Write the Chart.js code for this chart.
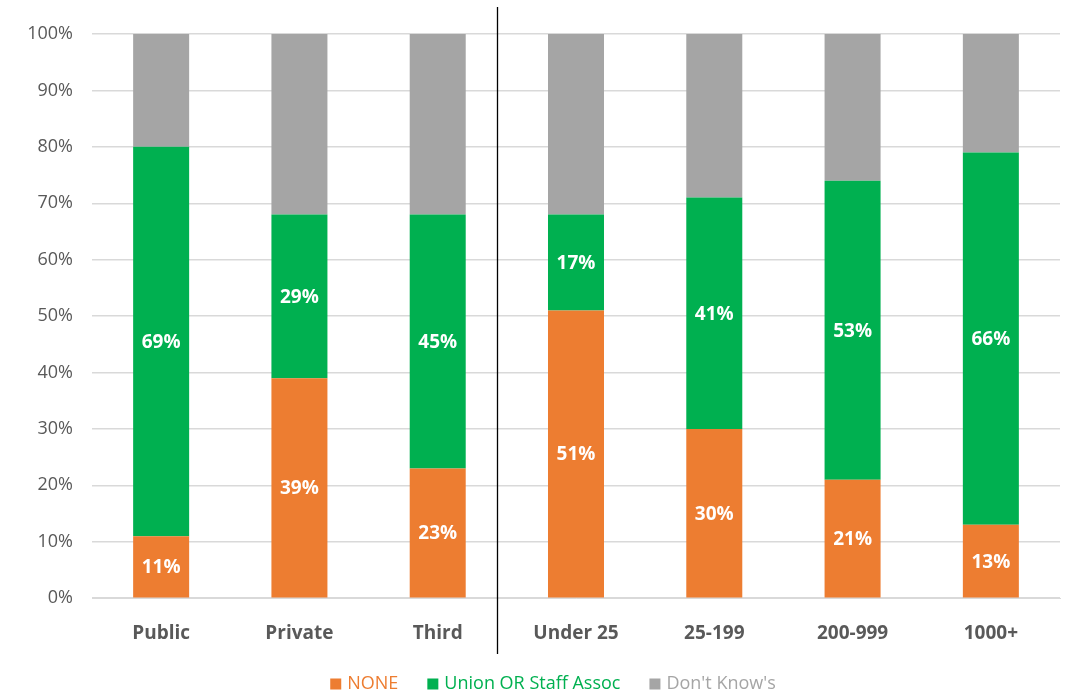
<!DOCTYPE html>
<html>
<head>
<meta charset="utf-8">
<script src="https://cdn.jsdelivr.net/npm/chart.js@4/dist/chart.umd.min.js"></script>
<style>
  html, body { margin: 0; padding: 0; background: #fff; }
  #wrap { width: 1066px; height: 695px; }
</style>
</head>
<body>
<div id="wrap"><canvas id="chart"></canvas></div>
<script>
const categories = ['Public', 'Private', 'Third', 'Under 25', '25-199', '200-999', '1000+'];
const noneVals = [11, 39, 23, 51, 30, 21, 13];
const unionVals = [69, 29, 45, 17, 41, 53, 66];
const dontKnowVals = [20, 32, 32, 32, 29, 26, 21];
const yTicks = [0, 10, 20, 30, 40, 50, 60, 70, 80, 90, 100];

const ORANGE = '#ED7D31', GREEN = '#00B050', GREY = '#A5A5A5';
const FONT = "'Open Sans', 'Noto Sans', sans-serif";

// white % labels in the middle of the orange and green segments
const segLabels = {
  id: 'segLabels',
  afterDatasetsDraw(chart) {
    const ctx = chart.ctx;
    ctx.save();
    ctx.fillStyle = '#fff';
    ctx.font = 'bold 19px ' + FONT;
    ctx.textAlign = 'center';
    ctx.textBaseline = 'middle';
    [0, 1].forEach(di => {
      const meta = chart.getDatasetMeta(di);
      meta.data.forEach((bar, i) => {
        const v = chart.data.datasets[di].data[i];
        const y = (bar.y + bar.base) / 2;
        ctx.fillText(v + '%', bar.x, y + 1);
      });
    });
    ctx.restore();
  }
};

// vertical divider between sector and size groups
const divider = {
  id: 'divider',
  afterDraw(chart) {
    const x = Math.round(chart.scales.x.getPixelForValue(2.43)) + 0.5;
    const ctx = chart.ctx;
    ctx.save();
    ctx.strokeStyle = '#000';
    ctx.lineWidth = 1.3;
    ctx.beginPath();
    ctx.moveTo(x, 7);
    ctx.lineTo(x, 654);
    ctx.stroke();
    ctx.restore();
  }
};

// legend row with text in each series colour
const colourLegend = {
  id: 'colourLegend',
  afterDraw(chart) {
    const ctx = chart.ctx;
    const box = 11, gap = 6, spacing = 29;
    ctx.save();
    ctx.font = '18px ' + FONT;
    ctx.textBaseline = 'middle';
    const items = chart.data.datasets.map(ds => ({
      text: ds.label, color: ds.backgroundColor, w: ctx.measureText(ds.label).width
    }));
    const total = items.reduce((s, it) => s + box + gap + it.w, 0) + spacing * (items.length - 1);
    let x = chart.width / 2 + 20 - total / 2;
    const y = chart.height - 11;
    items.forEach(it => {
      ctx.fillStyle = it.color;
      ctx.fillRect(x, y - box / 2, box, box);
      x += box + gap;
      ctx.fillText(it.text, x, y);
      x += it.w + spacing;
    });
    ctx.restore();
  }
};

new Chart(document.getElementById('chart'), {
  type: 'bar',
  data: {
    labels: categories,
    datasets: [
      { label: 'NONE', data: noneVals, backgroundColor: ORANGE },
      { label: 'Union OR Staff Assoc', data: unionVals, backgroundColor: GREEN },
      { label: "Don't Know's", data: dontKnowVals, backgroundColor: GREY }
    ]
  },
  options: {
    responsive: true,
    maintainAspectRatio: false,
    animation: false,
    layout: { padding: { left: 0, right: 6, top: 34, bottom: 26 } },
    datasets: { bar: { categoryPercentage: 1, barPercentage: 0.405 } },
    scales: {
      x: {
        stacked: true,
        grid: { display: false, drawTicks: false },
        border: { display: true, color: '#d9d9d9' },
        ticks: { color: '#595959', font: { family: FONT, size: 19, weight: 'bold' }, padding: 24 }
      },
      y: {
        stacked: true,
        min: 0, max: 100,
        afterBuildTicks: s => { s.ticks = yTicks.map(v => ({ value: v })); },
        afterFit: s => { s.width = 92; },
        grid: { color: '#d9d9d9', lineWidth: 1.5, drawTicks: false },
        border: { display: false },
        ticks: {
          color: '#595959',
          padding: 19,
          font: { family: FONT, size: 18 },
          callback: v => v + '%'
        }
      }
    },
    plugins: {
      tooltip: { enabled: false },
      legend: { display: false }
    }
  },
  plugins: [segLabels, divider, colourLegend]
});
</script>
</body>
</html>
